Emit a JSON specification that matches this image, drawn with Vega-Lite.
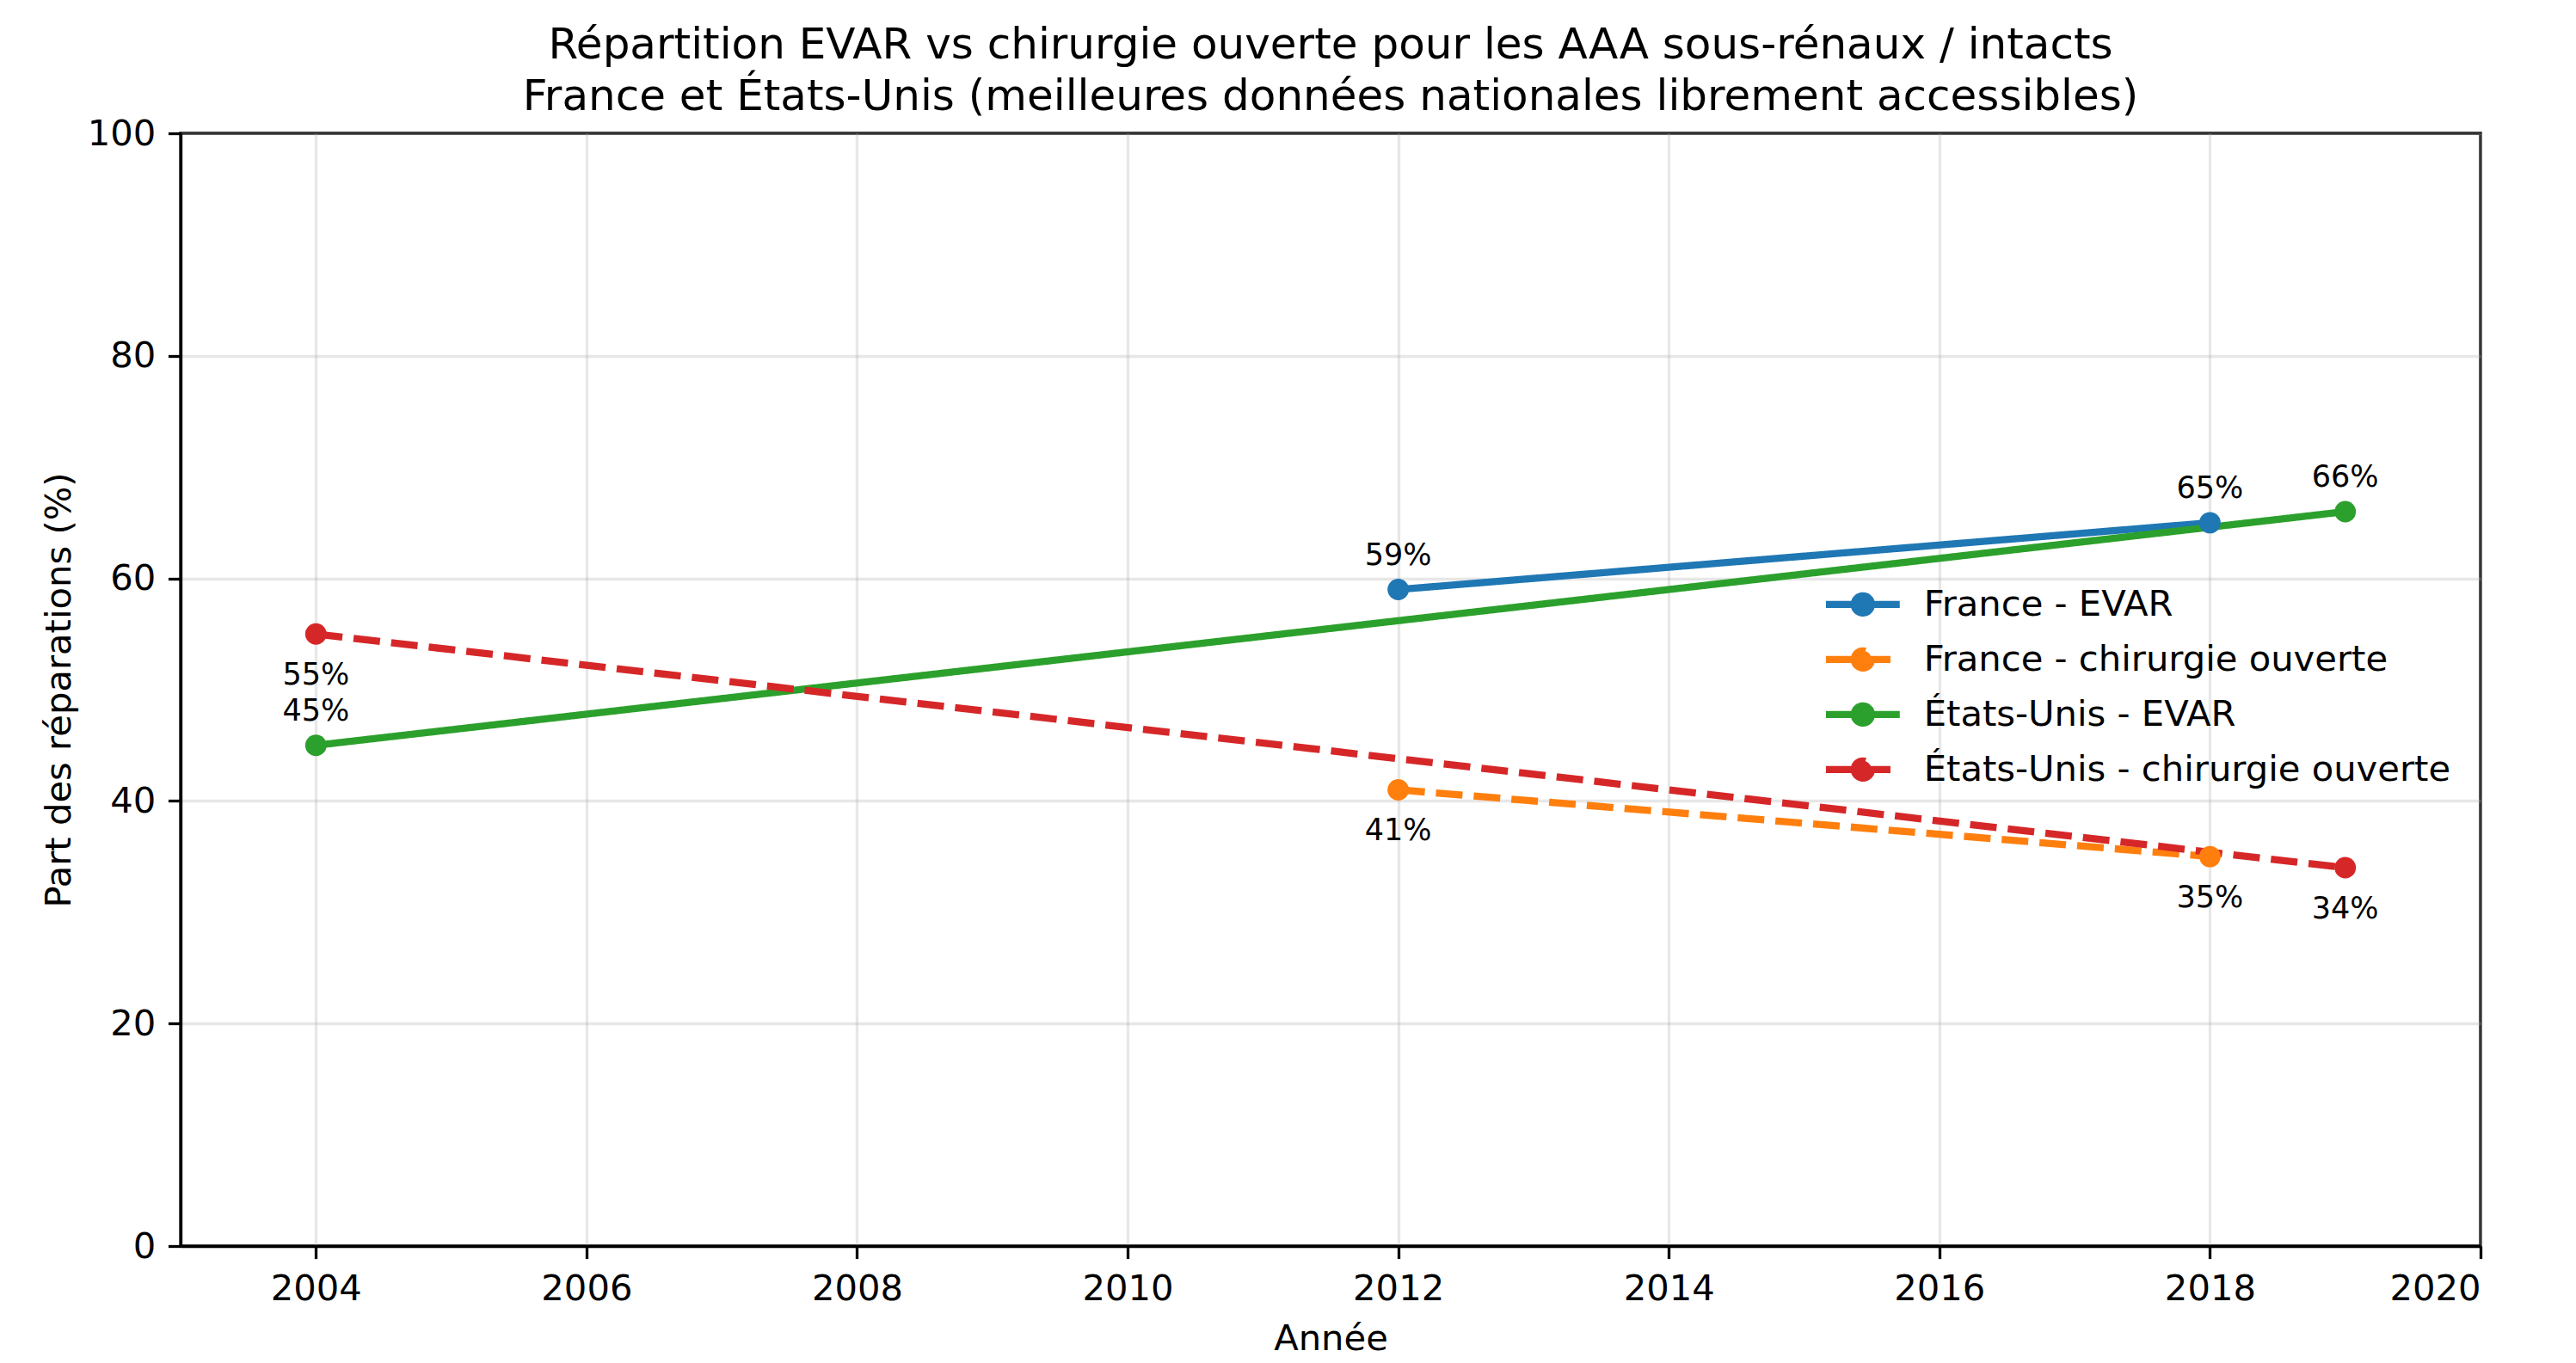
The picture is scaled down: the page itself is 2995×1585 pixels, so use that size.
{
  "$schema": "https://vega.github.io/schema/vega-lite/v6.json",
  "width": 2674,
  "height": 1294,
  "autosize": {"type": "none"},
  "padding": {"left": 210, "top": 155, "right": 111, "bottom": 136},
  "background": "white",
  "title": {
    "text": ["Répartition EVAR vs chirurgie ouverte pour les AAA sous-rénaux / intacts", "France et États-Unis (meilleures données nationales librement accessibles)"],
    "font": "DejaVu Sans",
    "fontSize": 50,
    "fontWeight": "normal",
    "lineHeight": 60,
    "color": "black",
    "anchor": "middle",
    "frame": "group",
    "baseline": "bottom",
    "offset": 16,
    "dy": 69
  },
  "data": {
    "values": [
      {"serie": "France - EVAR", "type": "EVAR", "annee": 2012, "part": 59, "label": "59%"},
      {"serie": "France - EVAR", "type": "EVAR", "annee": 2018, "part": 65, "label": "65%"},
      {"serie": "France - chirurgie ouverte", "type": "ouverte", "annee": 2012, "part": 41, "label": "41%"},
      {"serie": "France - chirurgie ouverte", "type": "ouverte", "annee": 2018, "part": 35, "label": "35%"},
      {"serie": "États-Unis - EVAR", "type": "EVAR", "annee": 2004, "part": 45, "label": "45%"},
      {"serie": "États-Unis - EVAR", "type": "EVAR", "annee": 2019, "part": 66, "label": "66%"},
      {"serie": "États-Unis - chirurgie ouverte", "type": "ouverte", "annee": 2004, "part": 55, "label": "55%"},
      {"serie": "États-Unis - chirurgie ouverte", "type": "ouverte", "annee": 2019, "part": 34, "label": "34%"}
    ]
  },
  "encoding": {
    "x": {
      "field": "annee",
      "type": "quantitative",
      "scale": {"domain": [2003, 2020], "nice": false, "zero": false},
      "axis": {"title": "Année", "values": [2004, 2006, 2008, 2010, 2012, 2014, 2016, 2018, 2020], "format": "d", "titlePadding": 17}
    },
    "y": {
      "field": "part",
      "type": "quantitative",
      "scale": {"domain": [0, 100], "nice": false},
      "axis": {"title": "Part des réparations (%)", "values": [0, 20, 40, 60, 80, 100], "titlePadding": 11}
    }
  },
  "layer": [
    {
      "mark": {"type": "line", "strokeWidth": 8.3, "strokeCap": "butt", "point": {"filled": true, "size": 620, "opacity": 1}},
      "encoding": {
        "color": {
          "field": "serie",
          "type": "nominal",
          "title": null,
          "scale": {
            "domain": ["France - EVAR", "France - chirurgie ouverte", "États-Unis - EVAR", "États-Unis - chirurgie ouverte"],
            "range": ["#1f77b4", "#ff7f0e", "#2ca02c", "#d62728"]
          }
        },
        "strokeDash": {
          "field": "serie",
          "type": "nominal",
          "title": null,
          "scale": {
            "domain": ["France - EVAR", "France - chirurgie ouverte", "États-Unis - EVAR", "États-Unis - chirurgie ouverte"],
            "range": [[1, 0], [31, 13], [1, 0], [31, 13]]
          }
        }
      }
    },
    {
      "transform": [{"filter": "datum.type === 'EVAR'"}],
      "mark": {"type": "text", "dy": -40, "fontSize": 35, "font": "DejaVu Sans", "color": "black", "align": "center", "baseline": "middle"},
      "encoding": {"text": {"field": "label"}}
    },
    {
      "transform": [{"filter": "datum.type !== 'EVAR'"}],
      "mark": {"type": "text", "dy": 48, "fontSize": 35, "font": "DejaVu Sans", "color": "black", "align": "center", "baseline": "middle"},
      "encoding": {"text": {"field": "label"}}
    }
  ],
  "config": {
    "view": {"stroke": "black", "strokeWidth": 3.3},
    "axis": {
      "labelFont": "DejaVu Sans",
      "labelFontSize": 41.7,
      "labelColor": "black",
      "titleFont": "DejaVu Sans",
      "titleFontSize": 41.7,
      "titleFontWeight": "normal",
      "titleColor": "black",
      "domainColor": "black",
      "domainWidth": 3.3,
      "tickColor": "black",
      "tickWidth": 3.3,
      "tickSize": 14.6,
      "labelPadding": 14.6,
      "grid": true,
      "gridColor": "#b0b0b0",
      "gridOpacity": 0.3,
      "gridWidth": 3.3,
      "labelOverlap": false
    },
    "legend": {
      "orient": "none",
      "legendX": 1935,
      "legendY": 527,
      "padding": 0,
      "labelFont": "DejaVu Sans",
      "labelFontSize": 41.7,
      "labelColor": "black",
      "labelLimit": 0,
      "labelOffset": 50,
      "rowPadding": 10,
      "symbolType": "M-3,0L3,0M-0.7,0A0.7,0.7,0,1,0,0.7,0A0.7,0.7,0,1,0,-0.7,0",
      "symbolSize": 818,
      "symbolStrokeWidth": 8.3,
      "symbolOpacity": 1
    }
  }
}
